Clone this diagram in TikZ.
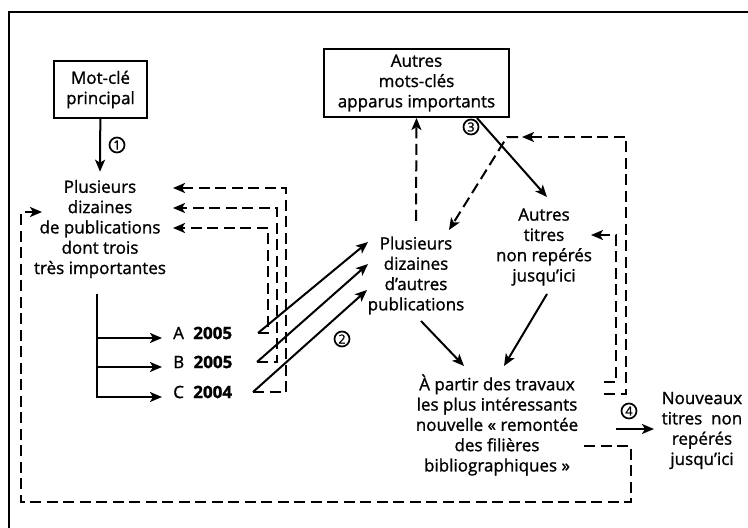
\documentclass[tikz,border=0pt]{standalone}
\usepackage{fontspec}
\setmainfont{Open Sans}[FakeBold=1.2]
\usetikzlibrary{arrows.meta}
\tikzset{
  txt/.style={align=center, font=\fontsize{17}{20.3}\selectfont, inner sep=4pt},
  boite/.style={txt, draw, line width=2pt, inner sep=0pt},
  lbl/.style={font=\fontsize{17}{20.3}\selectfont, inner sep=0pt, anchor=west},
  lien/.style={line width=2pt},
  fleche/.style={lien, -{Stealth[length=12pt,width=10pt,inset=3pt]}},
  tirets/.style={dash pattern=on 11pt off 5.5pt},
  num/.style={draw, circle, line width=1.7pt, inner sep=0pt, minimum size=15pt, font=\fontsize{12.5}{12.5}\selectfont}
}
\begin{document}
\begin{tikzpicture}[x=1pt,y=-1pt]
\clip (0,0) rectangle (748,528);
% cadre
\draw[line width=2pt] (9,540) -- (9,12) -- (760,12);

% noeuds
\node[boite, minimum width=93pt, minimum height=57pt] (motcle) at (100.5,89.5) {Mot-clé\\principal};
\node[boite, minimum width=185pt, minimum height=68pt] (autmc) at (416.5,83) {Autres\\mots-clés\\apparus importants};
\node[txt] (pubs) at (100,229) {Plusieurs\\dizaines\\de publications\\dont trois\\très importantes};
\node[txt] (autpubs) at (416,275.5) {Plusieurs\\dizaines\\d'autres\\publications};
\node[txt] (autitres) at (544,247) {Autres\\titres\\non repérés\\jusqu'ici};
\node[txt] (remontee) at (497,425) {À partir des travaux\\les plus intéressants\\nouvelle « remontée\\des filières\\bibliographiques »};
\node[txt] (nouveaux) at (702,430.5) {Nouveaux\\titres\ \ non\\repérés\\jusqu'ici};

% 1
\draw[fleche] (motcle) -- ([yshift=4pt]pubs.north);
\node[num] (n1) at (117,145) {1};

% A, B, C
\coordinate (tronc) at (97,294);
\draw[lien] (tronc) -- (97,398);
\foreach \n/\t/\y/\xs/\xv/\yr/\xe/\ye in {A/2005/333/258/268/228/368/242, B/2005/362/257/277/208/368/264, C/2004/392/253/286/188/367/290}{
  \node[lbl] (lbl\n) at (173,\y) {\n\hspace{0.55em}\textbf{\t}};
  \coordinate (f\n) at (97,\y+5);
  \draw[fleche, shorten >=11pt] (f\n) -- (f\n -| lbl\n.west);
  \coordinate (s\n) at (\xs,\y);
  \draw[fleche, tirets] (s\n) -| (\xv,\yr) -- (173,\yr);
  \draw[fleche] (s\n) -- (\xe,\ye);
}
\node[num] (n2) at (342,339) {2};

% 3
\draw[fleche, tirets] ([yshift=11.5pt]autpubs.north) -- (autmc.south);
\draw[fleche] ([xshift=-33pt]autmc.south east) -- (547,197);
\node[num] (n3) at (471,127) {3};

% retours
\draw[fleche, tirets] (604,394) -| (626,137) -- (522,137);
\draw[fleche, tirets] (518,137) -- (507,137) -- (449,230);
\draw[fleche, tirets] (604,382) -| (616,235) -- (591,235);
\draw[fleche, tirets] (584,446) -| (631,502) -| (21,212) -- (42,212);

% vers remontee
\draw[fleche] (421,321) -- (464,366);
\draw[fleche] (547,294) -- (504,366);

% 4
\coordinate (d4) at (616,429);
\draw[fleche] (d4) -- (654,429);
\node[num] (n4) at (629,411) {4};
\end{tikzpicture}
\end{document}
